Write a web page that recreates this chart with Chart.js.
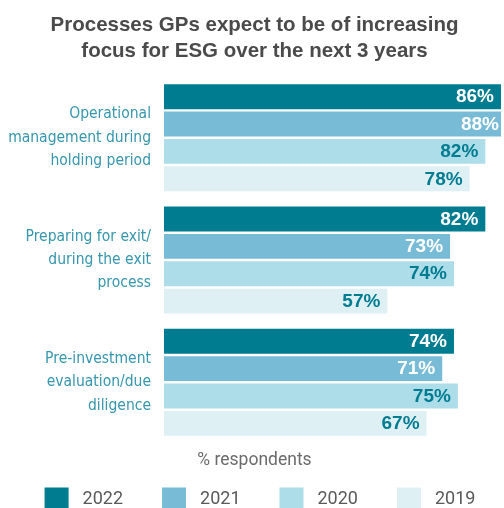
<!DOCTYPE html>
<html>
<head>
<meta charset="utf-8">
<script src="https://cdn.jsdelivr.net/npm/chart.js@4.4.1/dist/chart.umd.min.js"></script>
<style>
  html, body { margin: 0; padding: 0; background: #ffffff; overflow: hidden; }
  #wrap { position: relative; width: 504px; height: 508px; }
</style>
</head>
<body>
<div id="wrap"><canvas id="c"></canvas></div>
<script>
// ---- data ----
const categories = [
  ["Operational", "management during", "holding period"],
  ["Preparing for exit/", "during the exit", "process"],
  ["Pre-investment", "evaluation/due", "diligence"]
];
const seriesNames = ["2022", "2021", "2020", "2019"];
const values2022 = [86, 82, 74];
const values2021 = [88, 73, 71];
const values2020 = [82, 74, 75];
const values2019 = [78, 57, 67];
const titleLines = ["Processes GPs expect to be of increasing", "focus for ESG over the next 3 years"];
const axisNote = "% respondents";

// ---- styles ----
const barColors = ["#007c91", "#78bbd6", "#acdde9", "#dff0f5"];
const valueColors = ["#ffffff", "#ffffff", "#007c91", "#007c91"];
const seriesValues = [values2022, values2021, values2020, values2019];

const valueLabels = {
  id: 'valueLabels',
  afterDatasetsDraw(chart) {
    const { ctx, chartArea } = chart;
    ctx.save();
    ctx.font = 'bold 19px "Liberation Sans", Arial, sans-serif';
    ctx.textAlign = 'right';
    ctx.textBaseline = 'middle';
    chart.data.datasets.forEach((ds, di) => {
      const meta = chart.getDatasetMeta(di);
      meta.data.forEach((bar, i) => {
        const xEnd = Math.min(bar.x, chartArea.right + 5);
        ctx.fillStyle = valueColors[di];
        ctx.fillText(ds.data[i] + '%', xEnd - 7, bar.y + 0.5);
      });
    });
    ctx.restore();
  }
};

const boxLegend = {
  id: 'boxLegend',
  afterDraw(chart) {
    const { ctx } = chart;
    const sub = chart.subtitleBlock || null;
    const top = (sub ? sub.bottom : chart.chartArea.bottom + 26) + 18;
    const box = 24, gapText = 14, gapItem = 39;
    ctx.save();
    ctx.font = '18px Roboto, "Liberation Sans", sans-serif';
    ctx.textBaseline = 'middle';
    ctx.textAlign = 'left';
    const items = chart.data.datasets.map(ds => ({ label: ds.label, color: ds.backgroundColor, w: ctx.measureText(ds.label).width }));
    const total = items.reduce((s, it) => s + box + gapText + it.w, 0) + gapItem * (items.length - 1);
    let x = chart.width / 2 + 8 - total / 2;
    items.forEach(it => {
      ctx.fillStyle = it.color;
      ctx.fillRect(x, top, box, box);
      ctx.fillStyle = '#595959';
      ctx.fillText(it.label, x + box + gapText, top + box / 2);
      x += box + gapText + it.w + gapItem;
    });
    ctx.restore();
  }
};

const datasets = seriesNames.map((name, i) => ({
  label: name,
  data: seriesValues[i],
  backgroundColor: barColors[i],
  borderWidth: 0,
  categoryPercentage: 0.895,
  barPercentage: 0.91,
  clip: 0
}));

new Chart(document.getElementById('c'), {
  type: 'bar',
  data: { labels: categories, datasets },
  plugins: [valueLabels, boxLegend],
  options: {
    indexAxis: 'y',
    responsive: true,
    maintainAspectRatio: false,
    animation: false,
    layout: { padding: { top: 0, left: 8, right: 3, bottom: 37 } },
    scales: {
      x: { type: 'linear', min: 0, max: 86, display: false },
      y: {
        type: 'category',
        grid: { display: false, drawTicks: false },
        border: { display: false },
        ticks: {
          color: '#3596ad',
          padding: 13,
          font: { family: '"DejaVu Sans Condensed", "Liberation Sans Narrow", Roboto, sans-serif', size: 15.5, lineHeight: 1.51 }
        },
        afterFit(scale) { scale.width = 156; }
      }
    },
    plugins: {
      legend: { display: false },
      tooltip: { enabled: false },
      title: {
        display: true,
        text: titleLines,
        color: '#4a4a4a',
        font: { family: '"Liberation Sans", Arial, sans-serif', size: 20.5, weight: 'bold', lineHeight: 1.27 },
        padding: { top: 12, bottom: 12.5 }
      },
      subtitle: {
        display: true,
        position: 'bottom',
        text: axisNote,
        color: '#6b6b6b',
        font: { family: 'Roboto, "Liberation Sans", sans-serif', size: 17.5, weight: 'normal', lineHeight: 1.2 },
        padding: { top: 6.5, bottom: 0 }
      }
    }
  }
});
</script>
</body>
</html>
